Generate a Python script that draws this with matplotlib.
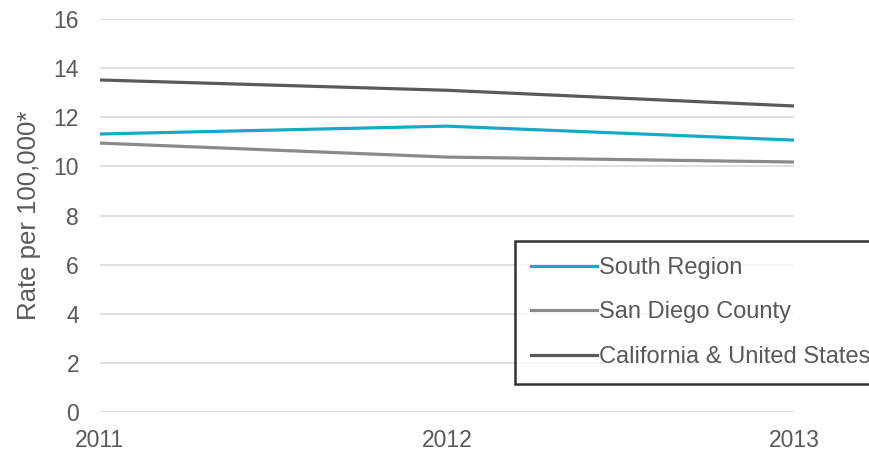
import matplotlib.pyplot as plt

plt.rcParams['font.family'] = ['Liberation Sans', 'DejaVu Sans']

# ----------------------------
# Data
# ----------------------------
years = [2011, 2012, 2013]
south_region = [11.32, 11.64, 11.07]
san_diego = [10.95, 10.38, 10.18]
california_us = [13.52, 13.10, 12.46]
y_ticks = [0, 2, 4, 6, 8, 10, 12, 14, 16]

text_color = '#595959'

fig = plt.figure(figsize=(8.69, 4.54), dpi=100)
ax = fig.add_axes([0.115, 0.0925, 0.799, 0.8655])

ax.plot(years, south_region, color='#17A9C6', lw=2.3, label='South Region')
ax.plot(years, san_diego, color='#8A8A8A', lw=2.3, label='San Diego County')
ax.plot(years, california_us, color='#5A5A5A', lw=2.3, label='California & United States')

ax.set_xlim(years[0], years[-1])
ax.set_ylim(0, 16)
ax.set_yticks(y_ticks)
ax.set_xticks(years)
ax.grid(axis='y', color='#D9D9D9', lw=1.2)
ax.set_axisbelow(True)
for s in ax.spines.values():
    s.set_visible(False)
ax.tick_params(length=0, labelsize=16.5, colors=text_color)
ax.tick_params(axis='y', pad=15)
ax.tick_params(axis='x', pad=12)
ax.set_ylabel('Rate per 100,000*', fontsize=18.5, color=text_color, labelpad=9)

# legend box runs off the right edge, as in the source image
leg = fig.legend(loc='upper left', bbox_to_anchor=(515 / 869, 1 - 241 / 454),
                 fontsize=17, frameon=True, fancybox=False, handlelength=2.8,
                 handletextpad=0.08, borderpad=0.68, labelspacing=0.95,
                 borderaxespad=0)
leg.get_frame().set_edgecolor('black')
leg.get_frame().set_linewidth(1.8)
for t in leg.get_texts():
    t.set_color(text_color)

fig.savefig('out.png', dpi=100)
